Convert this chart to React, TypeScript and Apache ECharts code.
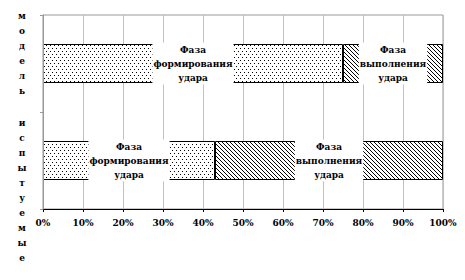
import React, { useEffect, useRef } from "react";
import * as echarts from "echarts";

const categories = ["испытуемые", "модель"];
const formationValues = [43, 75];
const executionValues = [57, 25];
const formationLabel = "Фаза\nформирования\nудара";
const executionLabel = "Фаза\nвыполнения\nудара";
const axisTicks = [0, 10, 20, 30, 40, 50, 60, 70, 80, 90, 100];

function makeDots(): HTMLCanvasElement {
  const c = document.createElement("canvas");
  c.width = 4;
  c.height = 6;
  const ctx = c.getContext("2d")!;
  ctx.fillStyle = "#fff";
  ctx.fillRect(0, 0, 4, 6);
  ctx.fillStyle = "#000";
  ctx.fillRect(0, 0, 1, 1);
  ctx.fillRect(2, 3, 1, 1);
  return c;
}

function makeHatch(): HTMLCanvasElement {
  const c = document.createElement("canvas");
  c.width = 4;
  c.height = 4;
  const ctx = c.getContext("2d")!;
  ctx.fillStyle = "#fff";
  ctx.fillRect(0, 0, 4, 4);
  ctx.fillStyle = "#000";
  for (let i = 0; i < 4; i++) ctx.fillRect(i, i, 1, 1);
  return c;
}

const font = "DejaVu Serif Condensed, DejaVu Serif";

export default function App() {
  const ref = useRef<HTMLDivElement>(null);
  useEffect(() => {
    if (!ref.current) return;
    const chart = echarts.init(ref.current, null, { renderer: "svg" });
    const dots = makeDots();
    const hatch = makeHatch();
    const labelStyle = {
      show: true,
      position: "inside" as const,
      color: "#000",
      fontFamily: font,
      fontWeight: "bold" as const,
      fontSize: 10,
      lineHeight: 14,
      backgroundColor: "#fff",
      padding: [0, 1],
    };
    const verticalTexts = [
      { name: "модель", top: 7.5 },
      { name: "испытуемые", top: 114.5 },
    ];
    chart.setOption({
      animation: false,
      textStyle: { fontFamily: font },
      grid: {
        left: 43,
        right: 22,
        top: 15,
        bottom: 71,
        show: true,
        borderColor: "#999",
        borderWidth: 1,
        backgroundColor: "transparent",
      },
      xAxis: {
        type: "value",
        min: axisTicks[0],
        max: axisTicks[axisTicks.length - 1],
        interval: 10,
        axisLine: { show: true, lineStyle: { color: "#000", width: 1 } },
        axisTick: { show: true, length: 3, lineStyle: { color: "#000" } },
        splitLine: { show: true, lineStyle: { color: "#c0c0c0", width: 1 } },
        axisLabel: {
          formatter: "{value}%",
          color: "#000",
          fontFamily: font,
          fontWeight: "bold",
          fontSize: 10,
          margin: 8,
        },
      },
      yAxis: {
        type: "category",
        data: categories,
        z: 10,
        axisLine: { show: true, lineStyle: { color: "#999", width: 1 } },
        axisTick: { show: true, length: 3, lineStyle: { color: "#999" } },
        axisLabel: { show: false },
        splitLine: { show: false },
      },
      graphic: verticalTexts.map((t) => ({
        type: "text",
        x: 22,
        y: t.top,
        style: {
          text: t.name.split("").join("\n"),
          fill: "#000",
          fontFamily: font,
          fontWeight: "bold",
          fontSize: 10,
          lineHeight: 15,
          textAlign: "center",
          textVerticalAlign: "top",
        },
      })),
      series: [
        {
          type: "bar",
          stack: "s",
          barWidth: 39,
          data: formationValues,
          itemStyle: {
            color: { image: dots, repeat: "repeat", imageWidth: 4, imageHeight: 6 },
            borderColor: "#000",
            borderWidth: 1,
          },
          label: { ...labelStyle, formatter: formationLabel },
        },
        {
          type: "bar",
          stack: "s",
          barWidth: 39,
          data: executionValues,
          itemStyle: {
            color: { image: hatch, repeat: "repeat", imageWidth: 4, imageHeight: 4 },
            borderColor: "#000",
            borderWidth: 1,
          },
          label: { ...labelStyle, formatter: executionLabel },
        },
      ],
    });
    return () => chart.dispose();
  }, []);
  return (
    <div
      ref={ref}
      style={{ position: "fixed", left: 0, top: 0, width: 465, height: 280, background: "#fff" }}
    />
  );
}
